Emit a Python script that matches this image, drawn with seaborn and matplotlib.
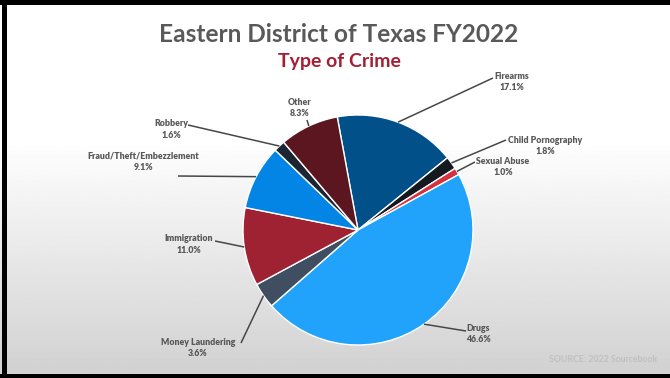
import numpy as np
import matplotlib
matplotlib.use("Agg")
import matplotlib.pyplot as plt
import seaborn as sns
from matplotlib.patches import Rectangle

# ---- data ----
categories = ["Firearms", "Child Pornography", "Sexual Abuse", "Drugs",
              "Money Laundering", "Immigration", "Fraud/Theft/Embezzlement",
              "Robbery", "Other"]
values = [17.1, 1.8, 1.0, 46.6, 3.6, 11.0, 9.1, 1.6, 8.3]
pct_labels = ["17.1%", "1.8%", "1.0%", "46.6%", "3.6%", "11.0%", "9.1%", "1.6%", "8.3%"]
colors = ["#02508A", "#13191F", "#D6313F", "#21A2FB", "#3F4F61",
          "#9E2232", "#0385E6", "#1C2633", "#5C1620"]

title = "Eastern District of Texas FY2022"
subtitle = "Type of Crime"
source = "SOURCE: 2022 Sourcebook"

# label layout (pixel coords, y from top): text centre, leader end
label_pos = [(512, 82), (545, 146), (503, 167), (478, 334), (198, 348),
             (189, 244.5), (143, 161.5), (171, 129.5), (300, 108)]
leader_end = [(493, 78), (506, 140), (475, 162), (466, 331), (241, 343),
              (215, 241), (178, 176), (188, 125), (307, 120)]

sns.set_theme(style="white")
plt.rcParams['font.family'] = ['Lato', 'DejaVu Sans']

W, H = 670, 378
fig = plt.figure(figsize=(W / 100, H / 100), dpi=100)
ax = fig.add_axes([0, 0, 1, 1])
ax.set_xlim(0, W)
ax.set_ylim(0, H)
ax.axis("off")

# gradient background
rows = np.linspace(0, H, 400)  # from top
vals = np.where(rows < 140, 1.0, 1.0 - (rows - 140) / (374 - 140) * 0.18)
grad = np.repeat(vals[:, None], 2, axis=1)
ax.imshow(grad, cmap="gray", vmin=0, vmax=1, extent=(0, W, 0, H),
          aspect="auto", zorder=0, interpolation="bilinear")

cx, cy, R = 358, H - 230, 115
startangle = 100.4
wedges, _ = ax.pie(values, colors=colors, startangle=startangle,
                   counterclock=False, center=(cx, cy), radius=R,
                   wedgeprops=dict(edgecolor="white", linewidth=1.0),
                   frame=True)
for w in wedges:
    w.set_zorder(2)
ax.set_xlim(0, W)
ax.set_ylim(0, H)
ax.set_aspect("equal")
ax.axis("off")

txt_color = "#595959"
line_color = "#474747"
for w, cat, pct, (tx, ty), (ex, ey) in zip(wedges, categories, pct_labels,
                                           label_pos, leader_end):
    mid = np.deg2rad((w.theta1 + w.theta2) / 2)
    sx, sy = cx + R * np.cos(mid), cy + R * np.sin(mid)
    ax.plot([sx, ex], [sy, H - ey], color=line_color, lw=1.1, zorder=3,
            solid_capstyle="butt")
    ax.text(tx, H - ty, f"{cat}\n{pct}", ha="center", va="center",
            fontsize=6.3, fontweight="heavy", color=txt_color,
            linespacing=1.35, zorder=4)

ax.text(339, H - 35, title, ha="center", va="center", fontsize=17.6,
        fontweight="bold", color="#595959", zorder=4)
ax.text(339, H - 62, subtitle, ha="center", va="center", fontsize=14,
        fontweight="bold", color="#A41E34", zorder=4)
ax.text(657, H - 360, source, ha="right", va="center", fontsize=6.3,
        fontweight="bold", color="#C0C0C0", zorder=4)

# frame border
for (x, y, w_, h_) in [(0, H - 5, W, 5), (2, 0, 5, H), (0, 0, W, 4)]:
    ax.add_patch(Rectangle((x, y), w_, h_, facecolor="black",
                           edgecolor="none", zorder=5))

fig.savefig("out.png", dpi=100)
